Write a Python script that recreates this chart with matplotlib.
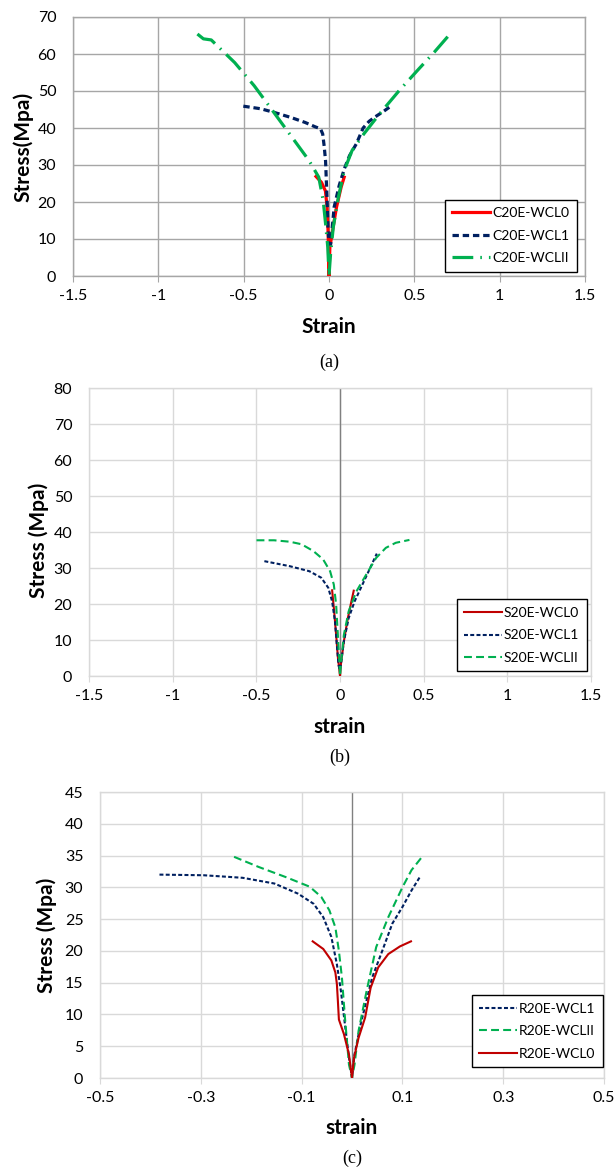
import matplotlib
matplotlib.use('Agg')
import matplotlib.pyplot as plt

plt.rcParams['font.family'] = ['Lato', 'DejaVu Sans']
plt.rcParams['axes.unicode_minus'] = False

# ------------------------------------------------------------
# data
# ------------------------------------------------------------
# (a) C20E
c0_strain = [-0.076, -0.044, -0.021, -0.011, -0.005, 0.0, 0.005, 0.021, 0.044, 0.071, 0.089]
c0_stress = [26.9, 25.3, 23.0, 18.6, 11.4, 0.0, 7.7, 12.3, 18.6, 24.0, 26.7]

c1_strain = [-0.502, -0.40, -0.32, -0.22, -0.14, -0.08, -0.05, -0.037, -0.028, -0.020,
             -0.015, -0.011, -0.006, 0.0, 0.010, 0.030, 0.060, 0.090, 0.120, 0.160,
             0.200, 0.235, 0.270, 0.320, 0.365]
c1_stress = [45.9, 45.2, 44.2, 42.8, 41.5, 40.3, 39.8, 38.4, 35.0, 31.0,
             25.0, 20.4, 13.0, 8.6, 8.6, 18.6, 24.5, 29.0, 32.5, 35.7,
             40.0, 41.8, 43.0, 44.5, 46.0]

c2_strain = [-0.771, -0.736, -0.690, -0.553, -0.438, -0.323, -0.209, -0.117, -0.060,
             -0.034, -0.018, -0.007, 0.0, 0.009, 0.025, 0.055, 0.089, 0.135, 0.204,
             0.296, 0.411, 0.525, 0.617, 0.709]
c2_stress = [65.4, 64.1, 63.8, 57.7, 51.4, 44.2, 37.0, 31.2, 26.7,
             20.4, 13.2, 7.7, 0.0, 5.9, 13.2, 21.3, 28.5, 33.9, 38.4,
             43.8, 50.1, 55.9, 60.5, 65.4]

# (b) S20E
s0_strain = [-0.047, -0.035, -0.023, -0.012, -0.005, 0.0, 0.005, 0.023, 0.047, 0.068, 0.082]
s0_stress = [23.8, 18.0, 11.4, 4.9, 2.1, 0.0, 3.1, 9.6, 16.1, 20.7, 23.7]

s1_strain = [-0.452, -0.300, -0.183, -0.112, -0.070, -0.047, -0.030, -0.019, -0.009,
             -0.002, 0.005, 0.023, 0.052, 0.087, 0.134, 0.180, 0.220]
s1_stress = [31.9, 30.5, 29.1, 27.3, 24.5, 20.7, 15.2, 8.7, 3.1,
             1.7, 3.1, 9.6, 16.1, 20.7, 25.4, 30.0, 34.0]

s2_strain = [-0.499, -0.394, -0.300, -0.230, -0.159, -0.101, -0.059, -0.037, -0.023,
             -0.014, -0.005, 0.0, 0.009, 0.023, 0.052, 0.098, 0.157, 0.216, 0.274,
             0.333, 0.415]
s2_stress = [37.7, 37.7, 37.3, 36.6, 34.7, 32.4, 29.1, 25.4, 19.8,
             12.4, 4.9, 0.0, 4.9, 11.4, 18.0, 23.5, 28.2, 32.8, 35.6,
             37.0, 37.8]

# (c) R20E
r1_strain = [-0.382, -0.294, -0.217, -0.154, -0.107, -0.076, -0.057, -0.041, -0.030,
             -0.022, -0.014, -0.006, 0.0, 0.005, 0.017, 0.040, 0.060, 0.080, 0.100,
             0.118, 0.136]
r1_stress = [32.0, 31.9, 31.5, 30.6, 29.0, 27.4, 25.3, 22.2, 17.9,
             13.7, 8.4, 3.2, 0.0, 3.7, 8.4, 15.8, 20.0, 24.3, 26.9,
             29.5, 31.8]

r2_strain = [-0.234, -0.185, -0.131, -0.084, -0.061, -0.045, -0.033, -0.026, -0.020,
             -0.014, -0.006, 0.0, 0.005, 0.013, 0.029, 0.048, 0.072, 0.100, 0.118, 0.140]
r2_stress = [34.8, 33.2, 31.6, 30.1, 28.5, 26.4, 23.7, 20.0, 15.8,
             9.5, 2.1, 0.0, 2.1, 7.4, 13.7, 20.6, 25.3, 30.0, 32.7, 34.9]

r0_strain = [-0.078, -0.057, -0.041, -0.033, -0.030, -0.028, -0.026, -0.016, -0.006,
             0.0, 0.004, 0.013, 0.026, 0.037, 0.052, 0.072, 0.095, 0.117]
r0_stress = [21.5, 20.3, 18.5, 16.6, 14.8, 12.1, 9.2, 6.9, 3.7,
             0.0, 3.2, 6.3, 9.5, 14.2, 17.4, 19.5, 20.7, 21.5]

# ------------------------------------------------------------
# styles
# ------------------------------------------------------------
RED_A, RED = '#FF0000', '#C00000'
NAVY = '#002060'
GREEN = '#00B050'

fig = plt.figure(figsize=(6.14, 11.67), dpi=100)


def style_axes(ax, xlim, xticks, xticklabels, ylim, yticks, gridc, zeroc=None):
    ax.set_xlim(*xlim)
    ax.set_ylim(*ylim)
    ax.set_xticks(xticks)
    ax.set_xticklabels(xticklabels)
    ax.set_yticks(yticks)
    ax.grid(True, color=gridc, linewidth=1.0, zorder=0)
    ax.set_axisbelow(True)
    for s in ax.spines.values():
        s.set_color(gridc)
        s.set_linewidth(1.0)
    ax.tick_params(axis='x', length=4, color=gridc, pad=5, labelsize=11.5)
    ax.tick_params(axis='y', length=0, pad=12, labelsize=11.5)
    if zeroc:
        ax.axvline(0, color=zeroc, linewidth=1.0, zorder=1)


def add_legend(ax, cx, cy):
    leg = ax.legend(loc='center', bbox_to_anchor=(cx, cy), fontsize=10,
                    frameon=True, fancybox=False, edgecolor='black',
                    framealpha=1, handlelength=2.7, handletextpad=0.15,
                    labelspacing=0.75, borderpad=0.55)
    leg.get_frame().set_linewidth(1.0)
    return leg


# ---------------- (a) ----------------
ax1 = fig.add_axes([73 / 614, 1 - 276 / 1167, 512 / 614, 259 / 1167])
ax1.plot(c0_strain, c0_stress, color=RED_A, lw=2.3, label='C20E-WCL0', zorder=3)
ax1.plot(c1_strain, c1_stress, color=NAVY, lw=2.3, dashes=(2.0, 1.2),
         label='C20E-WCL1', zorder=3)
ax1.plot(c2_strain, c2_stress, color=GREEN, lw=2.3, dashes=(6.5, 2.2, 0.5, 2.2),
         label='C20E-WCLII', zorder=3)
style_axes(ax1, (-1.5, 1.5), [-1.5, -1, -0.5, 0, 0.5, 1, 1.5],
           ['-1.5', '-1', '-0.5', '0', '0.5', '1', '1.5'],
           (0, 70), range(0, 71, 10), '#a6a6a6')
ax1.set_xlabel('Strain', fontsize=15, fontweight='bold')
ax1.set_ylabel('Stress(Mpa)', fontsize=15, fontweight='bold')
ax1.xaxis.label.set_va('center')
ax1.yaxis.label.set_va('center')
ax1.xaxis.set_label_coords(0.5, -0.197)
ax1.yaxis.set_label_coords(-0.097, 0.5)
add_legend(ax1, 0.855, 0.156)
fig.text((73 + 585) / 2 / 614, 1 - 362 / 1167, '(a)', ha='center', va='center',
         fontsize=13, family='Liberation Serif')

# ---------------- (b) ----------------
ax2 = fig.add_axes([89 / 614, 1 - 676 / 1167, 502 / 614, 288 / 1167])
ax2.plot(s0_strain, s0_stress, color=RED, lw=1.5, label='S20E-WCL0', zorder=3)
ax2.plot(s1_strain, s1_stress, color=NAVY, lw=1.5, dashes=(1.9, 1.1),
         label='S20E-WCL1', zorder=3)
ax2.plot(s2_strain, s2_stress, color=GREEN, lw=1.5, dashes=(3.8, 2.0),
         label='S20E-WCLII', zorder=3)
style_axes(ax2, (-1.5, 1.5), [-1.5, -1, -0.5, 0, 0.5, 1, 1.5],
           ['-1.5', '-1', '-0.5', '0', '0.5', '1', '1.5'],
           (0, 80), range(0, 81, 10), '#d9d9d9', zeroc='#808080')
ax2.set_xlabel('strain', fontsize=15, fontweight='bold')
ax2.set_ylabel('Stress (Mpa)', fontsize=15, fontweight='bold')
ax2.xaxis.label.set_va('center')
ax2.yaxis.label.set_va('center')
ax2.xaxis.set_label_coords(0.5, -0.177)
ax2.yaxis.set_label_coords(-0.1, 0.472)
add_legend(ax2, 0.862, 0.141)
fig.text((89 + 591) / 2 / 614, 1 - 757 / 1167, '(b)', ha='center', va='center',
         fontsize=13, family='Liberation Serif')

# ---------------- (c) ----------------
ax3 = fig.add_axes([100 / 614, 1 - 1078 / 1167, 504 / 614, 286 / 1167])
ax3.plot(r1_strain, r1_stress, color=NAVY, lw=1.5, dashes=(1.9, 1.1),
         label='R20E-WCL1', zorder=3)
ax3.plot(r2_strain, r2_stress, color=GREEN, lw=1.5, dashes=(3.8, 2.0),
         label='R20E-WCLII', zorder=3)
ax3.plot(r0_strain, r0_stress, color=RED, lw=1.5, label='R20E-WCL0', zorder=3)
style_axes(ax3, (-0.5, 0.5), [-0.5, -0.3, -0.1, 0.1, 0.3, 0.5],
           ['-0.5', '-0.3', '-0.1', '0.1', '0.3', '0.5'],
           (0, 45), range(0, 46, 5), '#d9d9d9', zeroc='#808080')
ax3.set_xlabel('strain', fontsize=15, fontweight='bold')
ax3.set_ylabel('Stress (Mpa)', fontsize=15, fontweight='bold')
ax3.xaxis.label.set_va('center')
ax3.yaxis.label.set_va('center')
ax3.xaxis.set_label_coords(0.5, -0.175)
ax3.yaxis.set_label_coords(-0.105, 0.5)
add_legend(ax3, 0.868, 0.164)
fig.text((100 + 604) / 2 / 614, 1 - 1158 / 1167, '(c)', ha='center', va='center',
         fontsize=13, family='Liberation Serif')

fig.savefig('out.png', dpi=100, facecolor='white')
